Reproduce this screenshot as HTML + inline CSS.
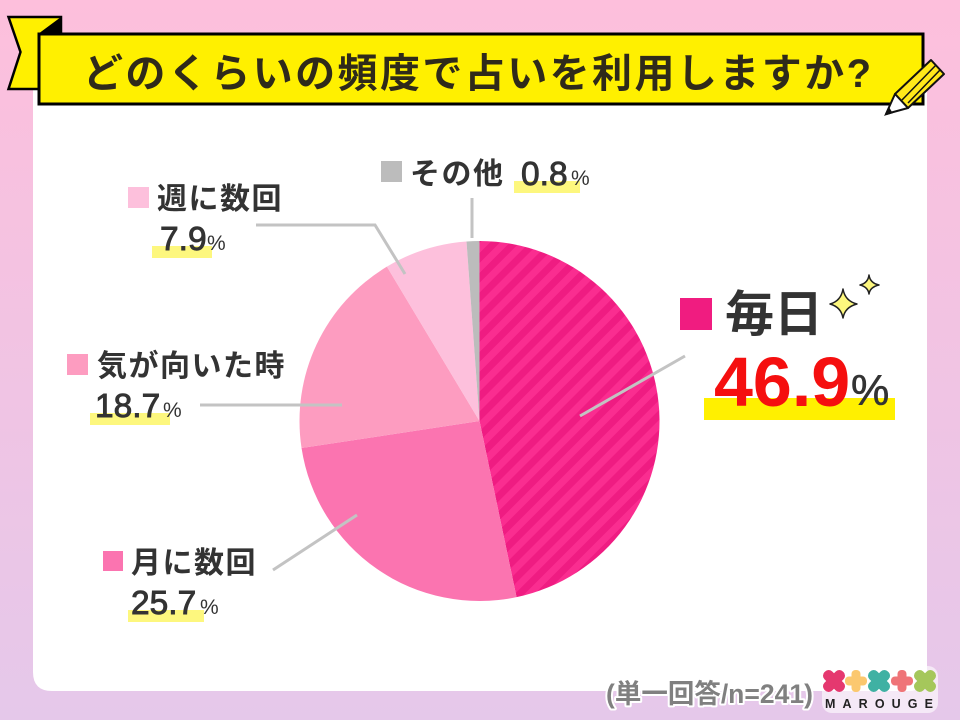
<!DOCTYPE html>
<html lang="ja">
<head>
<meta charset="utf-8">
<title>どのくらいの頻度で占いを利用しますか?</title>
<style>
html,body{margin:0;padding:0;width:960px;height:720px;overflow:hidden;background:#fff}
svg{display:block}
text{font-family:"Liberation Sans","Noto Sans CJK JP",sans-serif;fill:#333}
.jp{font-weight:700;font-size:30px;letter-spacing:1.500px;fill:#333}
.num{font-weight:400;font-size:33.500px;stroke:#333;stroke-width:.9px}
.pct{font-weight:400;font-size:21px}
</style>
</head>
<body>
<svg id="chart" width="960" height="720" viewBox="0 0 960 720" xmlns="http://www.w3.org/2000/svg">
  <defs>
    <linearGradient id="bg" x1="0" y1="0" x2="0" y2="1">
      <stop offset="0" stop-color="#fdbfdc"/>
      <stop offset="1" stop-color="#e5c8ea"/>
    </linearGradient>
    <pattern id="stripes" width="14" height="14" patternUnits="userSpaceOnUse" patternTransform="rotate(45)">
      <rect width="14" height="14" fill="#fa2d90"/>
      <rect width="7" height="14" fill="#ef1c82"/>
    </pattern>
  </defs>

  <rect width="960" height="720" fill="url(#bg)"/>
  <path d="M33 90H927V672Q927 691 908 691H52Q33 691 33 672Z" fill="#fff"/>

  <g>
    <path d="M8.500 17H61V89H8.500L20.500 52Z" fill="#fff000" stroke="#000" stroke-width="2.500" stroke-linejoin="miter"/>
    <path d="M38 34L61 17V34Z" fill="#000"/>
    <rect x="39" y="34" width="884" height="70" fill="#fff000" stroke="#000" stroke-width="3"/>
  </g>
  <text x="83" y="87" textLength="788" lengthAdjust="spacing" style="font-size:40px;font-weight:700;fill:#2f2a1a">どのくらいの頻度で占いを利用しますか?</text>

  <g>
    <path d="M931 60L944 74L908 108L895 94Z" fill="#ffe81a" stroke="#111" stroke-width="2" stroke-linejoin="round"/>
    <path d="M895 94L886 114L908 108Z" fill="#fff" stroke="#111" stroke-width="2" stroke-linejoin="round"/>
    <path d="M889 108L885 115L892 113Z" fill="#111" stroke="#111"/>
    <path d="M936 65L902 100M940 70L908 103" stroke="#111" stroke-width="1.500" fill="none"/>
  </g>

  <g id="pie"></g>

  <g fill="none" stroke="#c3c3c3" stroke-width="3">
    <path d="M685 356L580 416"/>
    <path d="M273 570L357 515"/>
    <path d="M200 405H342"/>
    <path d="M256 225H375L405 274"/>
    <path d="M472 198V238"/>
  </g>

  <!-- 毎日 -->
  <rect x="680" y="298" width="32" height="32" fill="#f01c80"/>
  <text x="725" y="331" style="font-size:49px;font-weight:700">毎日</text>
  <rect x="704" y="398" width="191" height="22" fill="#fff000"/>
  <text id="v0" x="714" y="406" style="font-size:70px;font-weight:700;fill:#f50f0f">46.9</text>
  <text x="851" y="405" style="font-size:43px;font-weight:400;stroke:#333;stroke-width:.6px">%</text>
  <g fill="#fdf77e" stroke="#222" stroke-width="1.500" stroke-linejoin="round">
    <path d="M843 289Q845 301 857 304Q845 307 843 318Q841 307 830 304Q841 301 843 289Z"/>
    <path d="M869 275Q870 283 879 285Q870 287 869 294Q868 287 860 285Q868 283 869 275Z"/>
  </g>

  <!-- 月に数回 -->
  <rect x="103" y="551" width="20" height="20" fill="#fb74b0"/>
  <text x="131" y="573" class="jp">月に数回</text>
  <rect x="128" y="610" width="76" height="12" fill="#fdf77e"/>
  <text id="v1" x="131" y="614" class="num">25.7</text>
  <text x="200" y="614" class="pct">%</text>

  <!-- 気が向いた時 -->
  <rect x="67" y="354" width="21" height="21" fill="#fd9cc0"/>
  <text x="97" y="376" class="jp">気が向いた時</text>
  <rect x="90" y="413" width="80" height="12" fill="#fdf77e"/>
  <text id="v2" x="95" y="417" class="num">18.7</text>
  <text x="163" y="417" class="pct">%</text>

  <!-- 週に数回 -->
  <rect x="128" y="187" width="21" height="21" fill="#fdc0dc"/>
  <text x="157" y="209" class="jp">週に数回</text>
  <rect x="152" y="246" width="60" height="12" fill="#fdf77e"/>
  <text id="v3" x="160" y="250" class="num">7.9</text>
  <text x="207" y="250" class="pct">%</text>

  <!-- その他 -->
  <rect x="381" y="161" width="21" height="21" fill="#bcbcbc"/>
  <text x="410" y="184" class="jp">その他</text>
  <rect x="514" y="181" width="66" height="12" fill="#fdf77e"/>
  <text id="v4" x="521" y="185" class="num">0.8</text>
  <text x="571" y="185" class="pct">%</text>

  <text x="606" y="703" style="font-size:26.500px;font-weight:700;fill:#808080;stroke:#fff;stroke-width:4px;paint-order:stroke;stroke-linejoin:round">(単一回答/n=241)</text>

  <g>
    <rect x="822" y="666" width="116" height="47" rx="10" fill="#fff" opacity=".6"/>
    <g transform="translate(834 681) rotate(45)" fill="#e5386f"><rect x="-13" y="-5.500" width="26" height="11" rx="5"/><rect x="-5.500" y="-13" width="11" height="26" rx="5"/></g>
    <g transform="translate(856 681)" fill="#fbc86f"><rect x="-11" y="-4.500" width="22" height="9" rx="4"/><rect x="-4.500" y="-11" width="9" height="22" rx="4"/></g>
    <g transform="translate(879 681) rotate(45)" fill="#3fb1a3"><rect x="-13" y="-5.500" width="26" height="11" rx="5"/><rect x="-5.500" y="-13" width="11" height="26" rx="5"/></g>
    <g transform="translate(902 681)" fill="#ef7478"><rect x="-11" y="-4.500" width="22" height="9" rx="4"/><rect x="-4.500" y="-11" width="9" height="22" rx="4"/></g>
    <g transform="translate(925 681) rotate(45)" fill="#a5c75b"><rect x="-13" y="-5.500" width="26" height="11" rx="5"/><rect x="-5.500" y="-13" width="11" height="26" rx="5"/></g>
    <text x="825" y="708" textLength="108" style="font-size:12.500px;font-weight:700;fill:#222">MAROUGE</text>
  </g>
</svg>

<script>
const categories = ['毎日', '月に数回', '気が向いた時', '週に数回', 'その他'];
const drawnShares = [46.7, 25.9, 18.8, 7.45, 1.15];
const printedValues = [46.9, 25.7, 18.7, 7.9, 0.8];
const sliceFills = ['url(#stripes)', '#fb74b0', '#fd9cc0', '#fdc0dc', '#bcbcbc'];
const sliceNames = ['slice-daily', 'slice-monthly', 'slice-whim', 'slice-weekly', 'slice-other'];

const cx = 479.5, cy = 421, radius = 180;
const total = drawnShares.reduce(function (a, b) { return a + b; }, 0);
function angleOf(v) { return v / total * Math.PI * 2; }
function pointAt(a) { return [cx + radius * Math.sin(a), cy - radius * Math.cos(a)]; }

const pie = document.getElementById('pie');
let running = 0;
drawnShares.forEach(function (v, i) {
  const a0 = angleOf(running), a1 = angleOf(running + v);
  const p0 = pointAt(a0), p1 = pointAt(a1);
  const large = (a1 - a0) > Math.PI ? 1 : 0;
  const el = document.createElementNS('http://www.w3.org/2000/svg', 'path');
  el.setAttribute('d', 'M' + cx + ' ' + cy + 'L' + p0[0] + ' ' + p0[1] + 'A' + radius + ' ' + radius + ' 0 ' + large + ' 1 ' + p1[0] + ' ' + p1[1] + 'Z');
  el.setAttribute('fill', sliceFills[i]);
  
  
  pie.appendChild(el);
  running += v;
});
printedValues.forEach(function (v, i) {
  document.getElementById('v' + i).textContent = v.toFixed(1);
});
</script>
</body>
</html>
